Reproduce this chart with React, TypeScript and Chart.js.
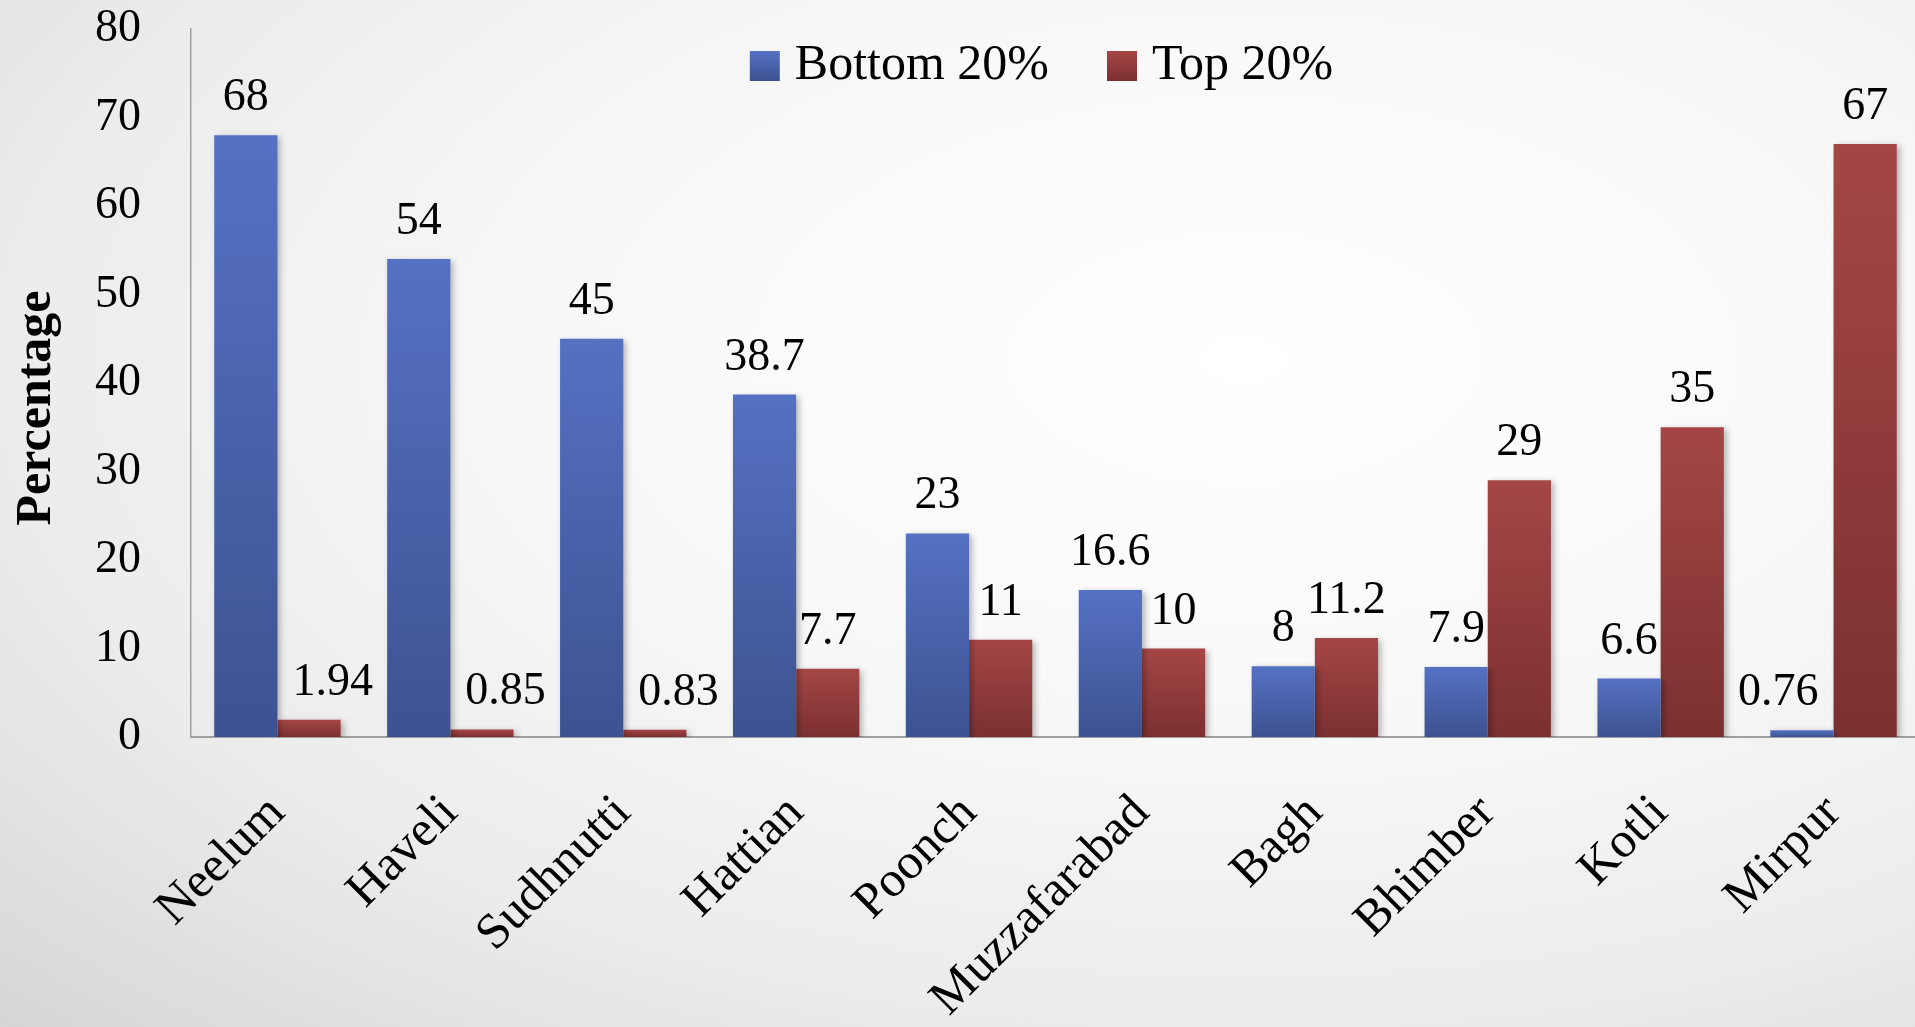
import React, { useEffect, useRef } from "react";
import { Chart, registerables } from "chart.js";

Chart.register(...registerables);

const categories = [
  "Neelum",
  "Haveli",
  "Sudhnutti",
  "Hattian",
  "Poonch",
  "Muzzafarabad",
  "Bagh",
  "Bhimber",
  "Kotli",
  "Mirpur",
];
const bottom20 = [68, 54, 45, 38.7, 23, 16.6, 8, 7.9, 6.6, 0.76];
const top20 = [1.94, 0.85, 0.83, 7.7, 11, 10, 11.2, 29, 35, 67];
const seriesNames = ["Bottom 20%", "Top 20%"];
const yMin = 0;
const yMax = 80;
const yStep = 10;
const yTitle = "Percentage";

const FONT = '"Liberation Serif", "Times New Roman", serif';
const BLUE_TOP = "#5571c3";
const BLUE_BOTTOM = "#3d5290";
const RED_TOP = "#a54646";
const RED_BOTTOM = "#7b3030";
const seriesTops = [BLUE_TOP, RED_TOP];
const seriesBottoms = [BLUE_BOTTOM, RED_BOTTOM];

const CANVAS_W = 1920;
const CANVAS_H = 1027;

function barGradient(top: string, bottom: string) {
  return (ctx: any) => {
    const chart = ctx.chart;
    const y = chart.scales && chart.scales.y;
    if (ctx.type !== "data" || !y || !chart.chartArea) return bottom;
    const v = ctx.parsed ? ctx.parsed.y : ctx.raw;
    const yTop = y.getPixelForValue(v);
    const yBase = y.getPixelForValue(0);
    if (!isFinite(yTop) || !isFinite(yBase) || yBase - yTop < 1) return bottom;
    const g = chart.ctx.createLinearGradient(0, yTop, 0, yBase);
    g.addColorStop(0, top);
    g.addColorStop(1, bottom);
    return g;
  };
}

const shadowPlugin = {
  id: "barShadow",
  beforeDatasetsDraw(chart: any) {
    const c = chart.ctx;
    c.save();
    c.shadowColor = "rgba(0,0,0,0.28)";
    c.shadowBlur = 6;
    c.shadowOffsetX = 3;
    c.shadowOffsetY = 2;
  },
  afterDatasetsDraw(chart: any) {
    chart.ctx.restore();
  },
};

const valueLabelPlugin = {
  id: "valueLabels",
  afterDraw(chart: any) {
    const c = chart.ctx;
    c.save();
    c.font = `46px ${FONT}`;
    c.fillStyle = "#000";
    c.textAlign = "center";
    c.textBaseline = "alphabetic";
    const metas = chart.data.datasets.map((_: any, i: number) => chart.getDatasetMeta(i));
    const margin = 15;
    chart.data.datasets.forEach((ds: any, i: number) => {
      const meta = metas[i];
      meta.data.forEach((bar: any, j: number) => {
        const text = String(ds.data[j]);
        const w = c.measureText(text).width;
        const baseline = bar.y - 25;
        let x = bar.x;
        // keep the label clear of a taller neighbouring bar in the same category
        metas.forEach((other: any, k: number) => {
          if (k === i) return;
          const ob = other.data[j];
          const half = ob.width / 2;
          const oLeft = ob.x - half;
          const oRight = ob.x + half;
          if (ob.y < baseline) {
            if (ob.x < bar.x && x - w / 2 < oRight) x = oRight + margin + w / 2;
            if (ob.x > bar.x && x + w / 2 > oLeft) x = oLeft - margin - w / 2;
          }
        });
        c.fillText(text, x, baseline);
      });
    });
    c.restore();
  },
};

const legendPlugin = {
  id: "innerLegend",
  afterDraw(chart: any) {
    const c = chart.ctx;
    const area = chart.chartArea;
    const box = 30;
    const textGap = 15;
    const itemGap = 58;
    c.save();
    c.font = `50px ${FONT}`;
    c.textBaseline = "middle";
    c.textAlign = "left";
    const names = chart.data.datasets.map((d: any) => String(d.label));
    const widths = names.map((n: string) => c.measureText(n).width);
    const total =
      widths.reduce((a: number, w: number) => a + box + textGap + w, 0) + itemGap * (names.length - 1);
    let x = (area.left + area.right) / 2 - 14 - total / 2;
    const boxTop = area.top + 22;
    const textY = area.top + 37;
    names.forEach((n: string, i: number) => {
      const g = c.createLinearGradient(0, boxTop, 0, boxTop + box);
      g.addColorStop(0, seriesTops[i]);
      g.addColorStop(1, seriesBottoms[i]);
      c.fillStyle = g;
      c.fillRect(x, boxTop, box, box);
      c.fillStyle = "#000";
      c.fillText(n, x + box + textGap, textY);
      x += box + textGap + widths[i] + itemGap;
    });
    c.restore();
  },
};

export default function App() {
  const canvasRef = useRef<HTMLCanvasElement | null>(null);

  useEffect(() => {
    document.body.style.margin = "0";
    document.body.style.overflow = "hidden";
    const canvas = canvasRef.current;
    if (!canvas) return;
    const chart = new Chart(canvas, {
      type: "bar",
      data: {
        labels: categories,
        datasets: [
          {
            label: seriesNames[0],
            data: bottom20,
            backgroundColor: barGradient(BLUE_TOP, BLUE_BOTTOM),
            borderWidth: 0,
          },
          {
            label: seriesNames[1],
            data: top20,
            backgroundColor: barGradient(RED_TOP, RED_BOTTOM),
            borderWidth: 0,
          },
        ],
      },
      options: {
        responsive: false,
        animation: false,
        devicePixelRatio: 1,
        layout: { padding: { top: 29, left: 0, right: 0, bottom: 0 } },
        datasets: {
          bar: { categoryPercentage: 0.731, barPercentage: 1 },
        },
        plugins: {
          tooltip: { enabled: false },
          legend: { display: false },
        },
        scales: {
          x: {
            grid: { display: false, drawTicks: false },
            border: { display: true, color: "#a0a0a0", width: 2 },
            ticks: {
              font: { family: FONT, size: 50 },
              color: "#000",
              minRotation: 45,
              maxRotation: 45,
              autoSkip: false,
              padding: 47,
            },
            afterFit: (scale: any) => {
              scale.height = 290;
              scale.paddingLeft = 0;
              scale.paddingRight = 0;
            },
          },
          y: {
            min: yMin,
            max: yMax,
            grid: { display: false, drawTicks: false },
            border: { display: true, color: "#a0a0a0", width: 1.5 },
            ticks: {
              stepSize: yStep,
              font: { family: FONT, size: 46 },
              color: "#000",
              padding: 50,
            },
            title: {
              display: true,
              text: yTitle + "    ",
              font: { family: FONT, size: 50, weight: "bold" },
              color: "#000",
              padding: { top: 7, bottom: 0 },
            },
            afterFit: (scale: any) => {
              scale.width = 191;
              scale.paddingTop = 0;
              scale.paddingBottom = 0;
            },
          },
        },
      },
      plugins: [shadowPlugin, valueLabelPlugin, legendPlugin],
    } as any);
    return () => chart.destroy();
  }, []);

  return (
    <div
      style={{
        width: 1915,
        height: CANVAS_H,
        position: "relative",
        overflow: "hidden",
        background:
          "radial-gradient(ellipse at 65% 35%, #ffffff 0%, #f9f9f9 35%, #ececec 70%, #d6d6d6 100%)",
      }}
    >
      <canvas ref={canvasRef} width={CANVAS_W} height={CANVAS_H} style={{ display: "block" }} />
    </div>
  );
}
